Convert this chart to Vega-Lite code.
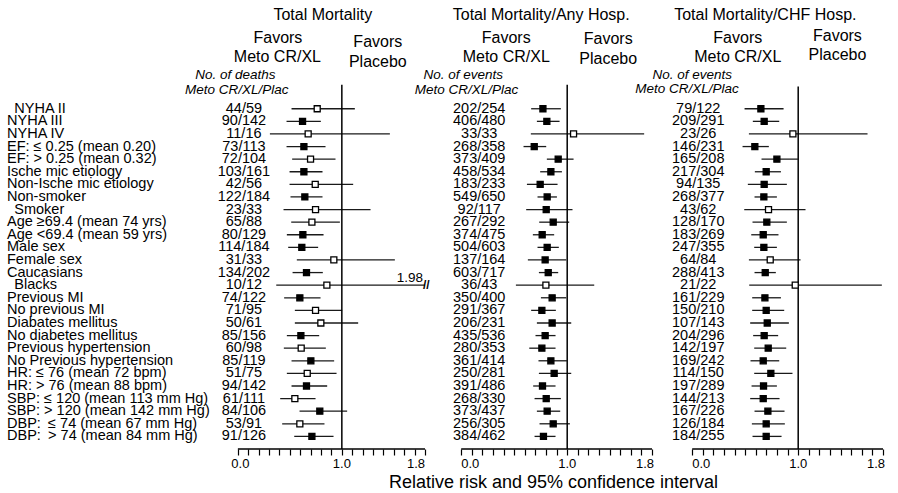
{
"$schema": "https://vega.github.io/schema/vega-lite/v6.json",
"padding": {"left": 0, "top": 0, "right": 0, "bottom": 0},
"autosize": {"type": "pad"},
"bounds": "flush",
"spacing": 0,
"config": {"view": {"stroke": null}, "font": "Liberation Sans", "text": {"fontSize": 14.5, "color": "#000"}},
"datasets": {
"t": [{"v":0},{"v":0.1},{"v":0.2},{"v":0.3},{"v":0.4},{"v":0.5},{"v":0.6},{"v":0.7},{"v":0.8},{"v":0.9},{"v":1},{"v":1.1},{"v":1.2},{"v":1.3},{"v":1.4},{"v":1.5},{"v":1.6},{"v":1.7},{"v":1.8}],
"d": [
{"p":1,"r":1,"label":"\u200b\u2002NYHA II","n":"44/59","lo":0.516,"rr":0.763,"hi":1.125,"o":1},
{"p":1,"r":2,"label":"NYHA III","n":"90/142","lo":0.468,"rr":0.622,"hi":0.798,"o":0},
{"p":1,"r":3,"label":"NYHA IV","n":"11/16","lo":0.308,"rr":0.676,"hi":1.462,"o":1},
{"p":1,"r":4,"label":"EF: ≤ 0.25 (mean 0.20)","n":"73/113","lo":0.468,"rr":0.635,"hi":0.843,"o":0},
{"p":1,"r":5,"label":"EF: > 0.25 (mean 0.32)","n":"72/104","lo":0.522,"rr":0.699,"hi":0.939,"o":1},
{"p":1,"r":6,"label":"Ische mic etiology","n":"103/161","lo":0.497,"rr":0.635,"hi":0.814,"o":0},
{"p":1,"r":7,"label":"Non-Ische mic etiology","n":"42/56","lo":0.497,"rr":0.744,"hi":1.109,"o":1},
{"p":1,"r":8,"label":"Non-smoker","n":"122/184","lo":0.506,"rr":0.644,"hi":0.814,"o":0},
{"p":1,"r":9,"label":"\u200b\u2002Smoker","n":"23/33","lo":0.439,"rr":0.747,"hi":1.276,"o":1},
{"p":1,"r":10,"label":"Age ≥69.4 (mean 74 yrs)","n":"65/88","lo":0.513,"rr":0.712,"hi":0.981,"o":1},
{"p":1,"r":11,"label":"Age <69.4 (mean 59 yrs)","n":"80/129","lo":0.471,"rr":0.625,"hi":0.824,"o":0},
{"p":1,"r":12,"label":"Male sex","n":"114/184","lo":0.484,"rr":0.615,"hi":0.772,"o":0},
{"p":1,"r":13,"label":"Female sex","n":"31/33","lo":0.567,"rr":0.923,"hi":1.51,"o":1},
{"p":1,"r":14,"label":"Caucasians","n":"134/202","lo":0.526,"rr":0.66,"hi":0.817,"o":0},
{"p":1,"r":15,"label":"\u200b\u2002Blacks","n":"10/12","lo":0.369,"rr":0.856,"hi":1.98,"o":1},
{"p":1,"r":16,"label":"Previous MI","n":"74/122","lo":0.445,"rr":0.596,"hi":0.795,"o":0},
{"p":1,"r":17,"label":"No previous MI","n":"71/95","lo":0.548,"rr":0.747,"hi":1.003,"o":1},
{"p":1,"r":18,"label":"Diabates mellitus","n":"50/61","lo":0.548,"rr":0.798,"hi":1.157,"o":1},
{"p":1,"r":19,"label":"No diabetes mellitus","n":"85/156","lo":0.471,"rr":0.606,"hi":0.782,"o":0},
{"p":1,"r":20,"label":"Previous hypertension","n":"60/98","lo":0.442,"rr":0.609,"hi":0.846,"o":1},
{"p":1,"r":21,"label":"No Previous hypertension","n":"85/119","lo":0.516,"rr":0.702,"hi":0.926,"o":0},
{"p":1,"r":22,"label":"HR: ≤ 76 (mean 72 bpm)","n":"51/75","lo":0.471,"rr":0.667,"hi":0.949,"o":1},
{"p":1,"r":23,"label":"HR: > 76 (mean 88 bpm)","n":"94/142","lo":0.516,"rr":0.66,"hi":0.859,"o":0},
{"p":1,"r":24,"label":"SBP: ≤ 120 (mean 113 mm Hg)","n":"61/111","lo":0.407,"rr":0.548,"hi":0.747,"o":1},
{"p":1,"r":25,"label":"SBP: > 120 (mean 142 mm Hg)","n":"84/106","lo":0.593,"rr":0.788,"hi":1.051,"o":0},
{"p":1,"r":26,"label":"DBP:\u2002≤ 74 (mean 67 mm Hg)","n":"53/91","lo":0.426,"rr":0.596,"hi":0.833,"o":1},
{"p":1,"r":27,"label":"DBP:\u2002> 74 (mean 84 mm Hg)","n":"91/126","lo":0.542,"rr":0.712,"hi":0.92,"o":0},
{"p":2,"r":1,"n":"202/254","lo":0.66,"rr":0.771,"hi":0.94,"o":0},
{"p":2,"r":2,"n":"406/480","lo":0.714,"rr":0.808,"hi":0.928,"o":0},
{"p":2,"r":3,"n":"33/33","lo":0.657,"rr":1.06,"hi":1.726,"o":1},
{"p":2,"r":4,"n":"268/358","lo":0.588,"rr":0.689,"hi":0.802,"o":0},
{"p":2,"r":5,"n":"373/409","lo":0.808,"rr":0.915,"hi":1.06,"o":0},
{"p":2,"r":6,"n":"458/534","lo":0.745,"rr":0.846,"hi":0.95,"o":0},
{"p":2,"r":7,"n":"183/233","lo":0.62,"rr":0.745,"hi":0.909,"o":0},
{"p":2,"r":8,"n":"549/650","lo":0.72,"rr":0.811,"hi":0.903,"o":0},
{"p":2,"r":9,"n":"92/117","lo":0.613,"rr":0.802,"hi":1.05,"o":0},
{"p":2,"r":10,"n":"267/292","lo":0.736,"rr":0.868,"hi":1.019,"o":0},
{"p":2,"r":11,"n":"374/475","lo":0.676,"rr":0.764,"hi":0.877,"o":0},
{"p":2,"r":12,"n":"504/603","lo":0.72,"rr":0.811,"hi":0.921,"o":0},
{"p":2,"r":13,"n":"137/164","lo":0.629,"rr":0.792,"hi":0.991,"o":0},
{"p":2,"r":14,"n":"603/717","lo":0.733,"rr":0.821,"hi":0.915,"o":0},
{"p":2,"r":15,"n":"36/43","lo":0.516,"rr":0.799,"hi":1.255,"o":1},
{"p":2,"r":16,"n":"350/400","lo":0.752,"rr":0.858,"hi":0.991,"o":0},
{"p":2,"r":17,"n":"291/367","lo":0.66,"rr":0.761,"hi":0.893,"o":0},
{"p":2,"r":18,"n":"206/231","lo":0.714,"rr":0.858,"hi":1.038,"o":0},
{"p":2,"r":19,"n":"435/536","lo":0.701,"rr":0.792,"hi":0.89,"o":0},
{"p":2,"r":20,"n":"280/353","lo":0.642,"rr":0.761,"hi":0.89,"o":0},
{"p":2,"r":21,"n":"361/414","lo":0.729,"rr":0.846,"hi":0.997,"o":0},
{"p":2,"r":22,"n":"250/281","lo":0.733,"rr":0.877,"hi":1.038,"o":0},
{"p":2,"r":23,"n":"391/486","lo":0.679,"rr":0.767,"hi":0.89,"o":0},
{"p":2,"r":24,"n":"268/330","lo":0.692,"rr":0.802,"hi":0.94,"o":0},
{"p":2,"r":25,"n":"373/437","lo":0.714,"rr":0.811,"hi":0.934,"o":0},
{"p":2,"r":26,"n":"256/305","lo":0.739,"rr":0.868,"hi":1.025,"o":0},
{"p":2,"r":27,"n":"384/462","lo":0.692,"rr":0.776,"hi":0.89,"o":0},
{"p":3,"r":1,"n":"79/122","lo":0.494,"rr":0.648,"hi":0.862,"o":0},
{"p":3,"r":2,"n":"209/291","lo":0.572,"rr":0.679,"hi":0.821,"o":0},
{"p":3,"r":3,"n":"23/26","lo":0.535,"rr":0.95,"hi":1.654,"o":1},
{"p":3,"r":4,"n":"146/231","lo":0.475,"rr":0.591,"hi":0.723,"o":0},
{"p":3,"r":5,"n":"165/208","lo":0.654,"rr":0.799,"hi":0.997,"o":0},
{"p":3,"r":6,"n":"217/304","lo":0.591,"rr":0.698,"hi":0.837,"o":0},
{"p":3,"r":7,"n":"94/135","lo":0.525,"rr":0.679,"hi":0.893,"o":0},
{"p":3,"r":8,"n":"268/377","lo":0.588,"rr":0.676,"hi":0.799,"o":0},
{"p":3,"r":9,"n":"43/62","lo":0.491,"rr":0.72,"hi":1.069,"o":1},
{"p":3,"r":10,"n":"128/170","lo":0.569,"rr":0.704,"hi":0.893,"o":0},
{"p":3,"r":11,"n":"183/269","lo":0.557,"rr":0.67,"hi":0.814,"o":0},
{"p":3,"r":12,"n":"247/355","lo":0.585,"rr":0.676,"hi":0.799,"o":0},
{"p":3,"r":13,"n":"64/84","lo":0.535,"rr":0.736,"hi":1.022,"o":1},
{"p":3,"r":14,"n":"288/413","lo":0.588,"rr":0.689,"hi":0.789,"o":0},
{"p":3,"r":15,"n":"21/22","lo":0.538,"rr":0.972,"hi":1.789,"o":1},
{"p":3,"r":16,"n":"161/229","lo":0.566,"rr":0.686,"hi":0.837,"o":0},
{"p":3,"r":17,"n":"150/210","lo":0.566,"rr":0.698,"hi":0.868,"o":0},
{"p":3,"r":18,"n":"107/143","lo":0.547,"rr":0.708,"hi":0.912,"o":0},
{"p":3,"r":19,"n":"204/296","lo":0.575,"rr":0.679,"hi":0.811,"o":0},
{"p":3,"r":20,"n":"142/197","lo":0.585,"rr":0.717,"hi":0.887,"o":0},
{"p":3,"r":21,"n":"169/242","lo":0.55,"rr":0.67,"hi":0.821,"o":0},
{"p":3,"r":22,"n":"114/150","lo":0.585,"rr":0.742,"hi":0.946,"o":0},
{"p":3,"r":23,"n":"197/289","lo":0.56,"rr":0.673,"hi":0.799,"o":0},
{"p":3,"r":24,"n":"144/213","lo":0.547,"rr":0.67,"hi":0.824,"o":0},
{"p":3,"r":25,"n":"167/226","lo":0.588,"rr":0.714,"hi":0.871,"o":0},
{"p":3,"r":26,"n":"126/184","lo":0.563,"rr":0.698,"hi":0.874,"o":0},
{"p":3,"r":27,"n":"184/255","lo":0.569,"rr":0.698,"hi":0.843,"o":0}
]},
"hconcat": [
{
"width": 425, "height": 449,
"encoding": {"y": {"field": "r", "type": "quantitative", "scale": {"domain": [-7.63, 28.0], "reverse": true, "nice": false, "zero": false}, "axis": null}},
"layer": [
{"data": {"name": "d"}, "transform": [{"filter": "datum.p==1"}],
 "mark": {"type": "rule", "color": "#1a1a1a", "strokeWidth": 1.3},
 "encoding": {"x": {"field": "lo", "type": "quantitative", "scale": {"domain": [-2.2885, 1.8], "nice": false, "zero": false, "clamp": true},
   "axis": {"values": [0,0.1,0.2,0.3,0.4,0.5,0.6,0.7,0.8,0.9,1,1.1,1.2,1.3,1.4,1.5,1.6,1.7,1.8], "tickCount": 100, "labels": false, "domain": false, "grid": false, "tickSize": 6, "tickColor": "#000", "tickWidth": 1.2, "title": null}},
   "x2": {"field": "hi"}}},
{"data": {"name": "t"}, "mark": {"type": "rule", "color": "#000", "strokeWidth": 1.2}, "encoding": {"x": {"field": "v", "type": "quantitative"}, "y": {"datum": 28}, "y2": {"datum": 28.48}}},
{"data": {"name": "d"}, "transform": [{"filter": "datum.p==1&&datum.r==1"}], "mark": {"type": "rule", "color": "#000", "strokeWidth": 1.5}, "encoding": {"x": {"datum": 1}, "y": {"datum": -0.9}, "y2": {"datum": 28}}},
{"data": {"name": "d"}, "transform": [{"filter": "datum.p==1&&datum.r==1"}], "mark": {"type": "rule", "color": "#000", "strokeWidth": 1.5}, "encoding": {"x": {"datum": 0}, "x2": {"datum": 1.8}, "y": {"datum": 28}}},
{"data": {"name": "d"}, "transform": [{"filter": "datum.p==1"}],
 "mark": {"type": "point", "shape": "square", "filled": true, "size": 36, "stroke": "#000", "strokeWidth": 1.3, "opacity": 1},
 "encoding": {"x": {"field": "rr", "type": "quantitative"}, "fill": {"condition": {"test": "datum.o==1", "value": "#fff"}, "value": "#000"}}},
{"data": {"name": "d"}, "transform": [{"filter": "datum.p==1"}],
 "mark": {"type": "text", "align": "center", "baseline": "middle"},
 "encoding": {"x": {"datum": 0.058}, "text": {"field": "n"}}},
{"data": {"name": "d"}, "transform": [{"filter": "datum.p==1"}],
 "mark": {"type": "text", "align": "left", "baseline": "middle"},
 "encoding": {"x": {"datum": -2.221}, "text": {"field": "label"}}},
{"data": {"name": "d"}, "transform": [{"filter": "datum.p==1&&datum.r==1"}], "mark": {"type": "text", "text": "0.0", "fontSize": 13, "baseline": "middle"}, "encoding": {"x": {"datum": 0.024}, "y": {"datum": 29.2}}},
{"data": {"name": "d"}, "transform": [{"filter": "datum.p==1&&datum.r==1"}], "mark": {"type": "text", "text": "1.0", "fontSize": 13, "baseline": "middle"}, "encoding": {"x": {"datum": 1.0}, "y": {"datum": 29.2}}},
{"data": {"name": "d"}, "transform": [{"filter": "datum.p==1&&datum.r==1"}], "mark": {"type": "text", "text": "1.8", "fontSize": 13, "align": "right", "baseline": "middle"}, "encoding": {"x": {"datum": 1.8}, "y": {"datum": 29.2}}},
{"data": {"name": "d"}, "transform": [{"filter": "datum.p==1&&datum.r==1"}], "mark": {"type": "text", "text": "Total Mortality", "fontSize": 16, "baseline": "middle"}, "encoding": {"x": {"datum": 0.817}, "y": {"datum": -6.44}}},
{"data": {"name": "d"}, "transform": [{"filter": "datum.p==1&&datum.r==1"}], "mark": {"type": "text", "text": "Favors", "fontSize": 16, "baseline": "middle"}, "encoding": {"x": {"datum": 0.385}, "y": {"datum": -4.63}}},
{"data": {"name": "d"}, "transform": [{"filter": "datum.p==1&&datum.r==1"}], "mark": {"type": "text", "text": "Meto CR/XL", "fontSize": 16, "baseline": "middle"}, "encoding": {"x": {"datum": 0.38}, "y": {"datum": -3.13}}},
{"data": {"name": "d"}, "transform": [{"filter": "datum.p==1&&datum.r==1"}], "mark": {"type": "text", "text": "Favors", "fontSize": 16, "baseline": "middle"}, "encoding": {"x": {"datum": 1.346}, "y": {"datum": -4.32}}},
{"data": {"name": "d"}, "transform": [{"filter": "datum.p==1&&datum.r==1"}], "mark": {"type": "text", "text": "Placebo", "fontSize": 16, "baseline": "middle"}, "encoding": {"x": {"datum": 1.346}, "y": {"datum": -2.73}}},
{"data": {"name": "d"}, "transform": [{"filter": "datum.p==1&&datum.r==1"}], "mark": {"type": "text", "text": "No. of deaths", "fontSize": 13.5, "fontStyle": "italic", "baseline": "middle"}, "encoding": {"x": {"datum": -0.024}, "y": {"datum": -1.67}}},
{"data": {"name": "d"}, "transform": [{"filter": "datum.p==1&&datum.r==1"}], "mark": {"type": "text", "text": "Meto CR/XL/Plac", "fontSize": 13.5, "fontStyle": "italic", "baseline": "middle"}, "encoding": {"x": {"datum": -0.01}, "y": {"datum": -0.48}}},
{"data": {"name": "d"}, "transform": [{"filter": "datum.p==1&&datum.r==1"}], "mark": {"type": "text", "text": "1.98", "fontSize": 13.5, "baseline": "middle"}, "encoding": {"x": {"datum": 1.654}, "y": {"datum": 14.41}}},
{"data": {"name": "d"}, "transform": [{"filter": "datum.p==1&&datum.r==1"}], "mark": {"type": "text", "text": "//", "fontSize": 12, "fontWeight": "bold", "align": "left", "baseline": "middle", "dx": -2}, "encoding": {"x": {"datum": 1.8}, "y": {"datum": 15}}}
]
},
{
"width": 227, "height": 449,
"encoding": {"y": {"field": "r", "type": "quantitative", "scale": {"domain": [-7.63, 28.0], "reverse": true, "nice": false, "zero": false}, "axis": null}},
"layer": [
{"data": {"name": "d"}, "transform": [{"filter": "datum.p==2"}],
 "mark": {"type": "rule", "color": "#1a1a1a", "strokeWidth": 1.3},
 "encoding": {"x": {"field": "lo", "type": "quantitative", "scale": {"domain": [-0.3415, 1.8], "nice": false, "zero": false, "clamp": true},
   "axis": {"values": [0,0.1,0.2,0.3,0.4,0.5,0.6,0.7,0.8,0.9,1,1.1,1.2,1.3,1.4,1.5,1.6,1.7,1.8], "tickCount": 100, "labels": false, "domain": false, "grid": false, "tickSize": 6, "tickColor": "#000", "tickWidth": 1.2,
   "title": "Relative risk and 95% confidence interval", "titleFontSize": 18, "titleFontWeight": "normal", "titleColor": "#000", "titleX": 128, "titleY": 33, "titleBaseline": "middle", "titleAlign": "center"}},
   "x2": {"field": "hi"}}},
{"data": {"name": "t"}, "mark": {"type": "rule", "color": "#000", "strokeWidth": 1.2}, "encoding": {"x": {"field": "v", "type": "quantitative"}, "y": {"datum": 28}, "y2": {"datum": 28.48}}},
{"data": {"name": "d"}, "transform": [{"filter": "datum.p==2&&datum.r==1"}], "mark": {"type": "rule", "color": "#000", "strokeWidth": 1.5}, "encoding": {"x": {"datum": 1}, "y": {"datum": -0.9}, "y2": {"datum": 28}}},
{"data": {"name": "d"}, "transform": [{"filter": "datum.p==2&&datum.r==1"}], "mark": {"type": "rule", "color": "#000", "strokeWidth": 1.5}, "encoding": {"x": {"datum": 0}, "x2": {"datum": 1.8}, "y": {"datum": 28}}},
{"data": {"name": "d"}, "transform": [{"filter": "datum.p==2"}],
 "mark": {"type": "point", "shape": "square", "filled": true, "size": 36, "stroke": "#000", "strokeWidth": 1.3, "opacity": 1},
 "encoding": {"x": {"field": "rr", "type": "quantitative"}, "fill": {"condition": {"test": "datum.o==1", "value": "#fff"}, "value": "#000"}}},
{"data": {"name": "d"}, "transform": [{"filter": "datum.p==2"}],
 "mark": {"type": "text", "align": "center", "baseline": "middle"},
 "encoding": {"x": {"datum": 0.17}, "text": {"field": "n"}}},
{"data": {"name": "d"}, "transform": [{"filter": "datum.p==2&&datum.r==1"}], "mark": {"type": "text", "text": "0.0", "fontSize": 13, "align": "left", "baseline": "middle"}, "encoding": {"x": {"datum": 0}, "y": {"datum": 29.2}}},
{"data": {"name": "d"}, "transform": [{"filter": "datum.p==2&&datum.r==1"}], "mark": {"type": "text", "text": "1.0", "fontSize": 13, "baseline": "middle"}, "encoding": {"x": {"datum": 1.0}, "y": {"datum": 29.2}}},
{"data": {"name": "d"}, "transform": [{"filter": "datum.p==2&&datum.r==1"}], "mark": {"type": "text", "text": "1.8", "fontSize": 13, "align": "right", "baseline": "middle", "dx": 2}, "encoding": {"x": {"datum": 1.8}, "y": {"datum": 29.2}}},
{"data": {"name": "d"}, "transform": [{"filter": "datum.p==2&&datum.r==1"}], "mark": {"type": "text", "text": "Total Mortality/Any Hosp.", "fontSize": 16, "baseline": "middle"}, "encoding": {"x": {"datum": 0.755}, "y": {"datum": -6.44}}},
{"data": {"name": "d"}, "transform": [{"filter": "datum.p==2&&datum.r==1"}], "mark": {"type": "text", "text": "Favors", "fontSize": 16, "baseline": "middle"}, "encoding": {"x": {"datum": 0.425}, "y": {"datum": -4.63}}},
{"data": {"name": "d"}, "transform": [{"filter": "datum.p==2&&datum.r==1"}], "mark": {"type": "text", "text": "Meto CR/XL", "fontSize": 16, "baseline": "middle"}, "encoding": {"x": {"datum": 0.425}, "y": {"datum": -3.13}}},
{"data": {"name": "d"}, "transform": [{"filter": "datum.p==2&&datum.r==1"}], "mark": {"type": "text", "text": "Favors", "fontSize": 16, "baseline": "middle"}, "encoding": {"x": {"datum": 1.387}, "y": {"datum": -4.5}}},
{"data": {"name": "d"}, "transform": [{"filter": "datum.p==2&&datum.r==1"}], "mark": {"type": "text", "text": "Placebo", "fontSize": 16, "baseline": "middle"}, "encoding": {"x": {"datum": 1.387}, "y": {"datum": -2.94}}},
{"data": {"name": "d"}, "transform": [{"filter": "datum.p==2&&datum.r==1"}], "mark": {"type": "text", "text": "No. of events", "fontSize": 13.5, "fontStyle": "italic", "baseline": "middle"}, "encoding": {"x": {"datum": 0.02}, "y": {"datum": -1.67}}},
{"data": {"name": "d"}, "transform": [{"filter": "datum.p==2&&datum.r==1"}], "mark": {"type": "text", "text": "Meto CR/XL/Plac", "fontSize": 13.5, "fontStyle": "italic", "baseline": "middle"}, "encoding": {"x": {"datum": 0.05}, "y": {"datum": -0.48}}}
]
},
{
"width": 231, "height": 449,
"encoding": {"y": {"field": "r", "type": "quantitative", "scale": {"domain": [-7.63, 28.0], "reverse": true, "nice": false, "zero": false}, "axis": null}},
"layer": [
{"data": {"name": "d"}, "transform": [{"filter": "datum.p==3"}],
 "mark": {"type": "rule", "color": "#1a1a1a", "strokeWidth": 1.3},
 "encoding": {"x": {"field": "lo", "type": "quantitative", "scale": {"domain": [-0.3792, 1.8], "nice": false, "zero": false, "clamp": true},
   "axis": {"values": [0,0.1,0.2,0.3,0.4,0.5,0.6,0.7,0.8,0.9,1,1.1,1.2,1.3,1.4,1.5,1.6,1.7,1.8], "tickCount": 100, "labels": false, "domain": false, "grid": false, "tickSize": 6, "tickColor": "#000", "tickWidth": 1.2, "title": null}},
   "x2": {"field": "hi"}}},
{"data": {"name": "t"}, "mark": {"type": "rule", "color": "#000", "strokeWidth": 1.2}, "encoding": {"x": {"field": "v", "type": "quantitative"}, "y": {"datum": 28}, "y2": {"datum": 28.48}}},
{"data": {"name": "d"}, "transform": [{"filter": "datum.p==3&&datum.r==1"}], "mark": {"type": "rule", "color": "#000", "strokeWidth": 1.5}, "encoding": {"x": {"datum": 1}, "y": {"datum": -0.77}, "y2": {"datum": 28}}},
{"data": {"name": "d"}, "transform": [{"filter": "datum.p==3&&datum.r==1"}], "mark": {"type": "rule", "color": "#000", "strokeWidth": 1.5}, "encoding": {"x": {"datum": 0}, "x2": {"datum": 1.8}, "y": {"datum": 28}}},
{"data": {"name": "d"}, "transform": [{"filter": "datum.p==3"}],
 "mark": {"type": "point", "shape": "square", "filled": true, "size": 36, "stroke": "#000", "strokeWidth": 1.3, "opacity": 1},
 "encoding": {"x": {"field": "rr", "type": "quantitative"}, "fill": {"condition": {"test": "datum.o==1", "value": "#fff"}, "value": "#000"}}},
{"data": {"name": "d"}, "transform": [{"filter": "datum.p==3"}],
 "mark": {"type": "text", "align": "center", "baseline": "middle"},
 "encoding": {"x": {"datum": 0.057}, "text": {"field": "n"}}},
{"data": {"name": "d"}, "transform": [{"filter": "datum.p==3&&datum.r==1"}], "mark": {"type": "text", "text": "0.0", "fontSize": 13, "align": "left", "baseline": "middle"}, "encoding": {"x": {"datum": 0}, "y": {"datum": 29.2}}},
{"data": {"name": "d"}, "transform": [{"filter": "datum.p==3&&datum.r==1"}], "mark": {"type": "text", "text": "1.0", "fontSize": 13, "baseline": "middle"}, "encoding": {"x": {"datum": 1.0}, "y": {"datum": 29.2}}},
{"data": {"name": "d"}, "transform": [{"filter": "datum.p==3&&datum.r==1"}], "mark": {"type": "text", "text": "1.8", "fontSize": 13, "align": "right", "baseline": "middle", "dx": 2}, "encoding": {"x": {"datum": 1.8}, "y": {"datum": 29.2}}},
{"data": {"name": "d"}, "transform": [{"filter": "datum.p==3&&datum.r==1"}], "mark": {"type": "text", "text": "Total Mortality/CHF Hosp.", "fontSize": 16, "baseline": "middle"}, "encoding": {"x": {"datum": 0.69}, "y": {"datum": -6.44}}},
{"data": {"name": "d"}, "transform": [{"filter": "datum.p==3&&datum.r==1"}], "mark": {"type": "text", "text": "Favors", "fontSize": 16, "baseline": "middle"}, "encoding": {"x": {"datum": 0.43}, "y": {"datum": -4.63}}},
{"data": {"name": "d"}, "transform": [{"filter": "datum.p==3&&datum.r==1"}], "mark": {"type": "text", "text": "Meto CR/XL", "fontSize": 16, "baseline": "middle"}, "encoding": {"x": {"datum": 0.43}, "y": {"datum": -3.13}}},
{"data": {"name": "d"}, "transform": [{"filter": "datum.p==3&&datum.r==1"}], "mark": {"type": "text", "text": "Favors", "fontSize": 16, "baseline": "middle"}, "encoding": {"x": {"datum": 1.37}, "y": {"datum": -4.79}}},
{"data": {"name": "d"}, "transform": [{"filter": "datum.p==3&&datum.r==1"}], "mark": {"type": "text", "text": "Placebo", "fontSize": 16, "baseline": "middle"}, "encoding": {"x": {"datum": 1.37}, "y": {"datum": -3.26}}},
{"data": {"name": "d"}, "transform": [{"filter": "datum.p==3&&datum.r==1"}], "mark": {"type": "text", "text": "No. of events", "fontSize": 13.5, "fontStyle": "italic", "baseline": "middle"}, "encoding": {"x": {"datum": 0.0}, "y": {"datum": -1.67}}},
{"data": {"name": "d"}, "transform": [{"filter": "datum.p==3&&datum.r==1"}], "mark": {"type": "text", "text": "Meto CR/XL/Plac", "fontSize": 13.5, "fontStyle": "italic", "baseline": "middle"}, "encoding": {"x": {"datum": -0.05}, "y": {"datum": -0.56}}}
]
}
]
}
